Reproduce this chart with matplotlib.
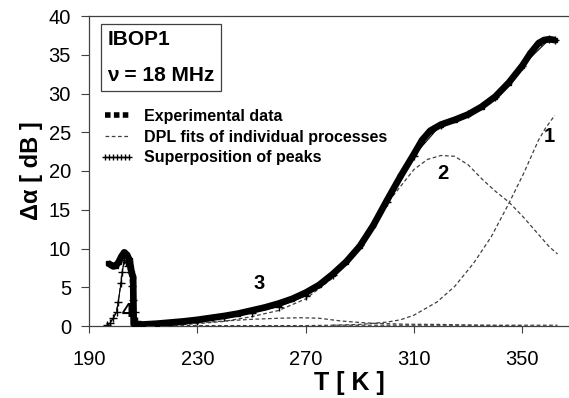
import matplotlib
matplotlib.use("Agg")
import matplotlib.pyplot as plt
from matplotlib.lines import Line2D
import numpy as np

plt.rcParams['font.family'] = ['Liberation Sans', 'DejaVu Sans']

# Experimental data
exp_T = [197, 198, 199, 200, 201, 202, 203, 204, 205, 205.8, 206.3, 206.5, 208, 210, 215, 220, 225, 230,
         235, 240, 245, 250, 255, 260, 265, 270, 275, 280, 285, 290, 295, 300, 305, 310, 313, 316, 320,
         325, 330, 335, 340, 345, 350, 353, 356, 358, 360, 362]
exp_A = [8.1, 7.9, 7.7, 7.8, 8.3, 9.0, 9.5, 9.2, 8.5, 6.8, 6.3, 0.2, 0.2, 0.2, 0.3, 0.45, 0.6, 0.8,
         1.05, 1.3, 1.6, 2.0, 2.4, 2.9, 3.5, 4.3, 5.3, 6.7, 8.3, 10.3, 13.0, 16.2, 19.3, 22.2, 24.0, 25.2, 26.0,
         26.6, 27.3, 28.3, 29.6, 31.4, 33.6, 35.2, 36.5, 36.9, 37.0, 36.9]

# Superposition of peaks
sup_T = [196.5, 197.7, 199, 200.2, 200.8, 201.8, 202.3, 203, 203.8, 204.5, 205.1, 205.7, 206.1, 207, 207.6,
         208.8, 212, 220, 230, 240, 250, 260, 270, 280, 290, 300, 310, 320, 330, 340, 350, 360, 362]
sup_A = [0.1, 0.35, 1.0, 1.8, 3.1, 5.5, 7.0, 8.5, 8.3, 7.8, 7.0, 5.1, 3.4, 1.8, 0.7,
         0.1, 0.1, 0.3, 0.7, 1.1, 1.7, 2.5, 3.9, 6.6, 10.4, 16.0, 22.0, 26.0, 27.3, 29.6, 33.6, 37.0, 36.9]

# DPL fits of individual processes
p1_T = [280, 290, 300, 305, 310, 318.5, 325, 332, 338.5, 345, 350.5, 356, 358.5, 362]
p1_A = [0.1, 0.2, 0.5, 0.8, 1.4, 3.1, 5.1, 8.1, 11.5, 15.8, 19.7, 24.0, 25.5, 27.2]

p2_T = [220, 230, 240, 250, 260, 270, 280, 290, 300, 310, 315, 320, 325, 330, 335, 340, 345, 350, 355, 360, 363]
p2_A = [0.1, 0.3, 0.6, 1.2, 2.0, 3.5, 6.2, 10.5, 15.8, 20.2, 21.5, 22.0, 21.9, 20.8, 19.0, 17.4, 16.0, 14.2, 12.2, 10.2, 9.3]

p3_T = [210, 220, 230, 240, 250, 260, 268, 275, 283, 290, 295, 300, 307, 320, 330, 340, 350]
p3_A = [0.05, 0.15, 0.4, 0.65, 0.86, 1.0, 1.07, 1.0, 0.65, 0.45, 0.35, 0.3, 0.23, 0.2, 0.12, 0.05, 0.02]

p4_T = [196.5, 198, 200, 201, 202, 203, 204, 205, 206, 207, 208, 210, 270, 280, 363]
p4_A = [0.0, 0.5, 1.8, 3.5, 6.5, 8.3, 8.0, 6.5, 3.5, 1.5, 0.4, 0.05, 0.05, 0.1, 0.1]

peak_labels = ['1', '2', '3', '4']
peak_T = [360, 320.5, 252.8, 204.2]
peak_A = [24.4, 19.7, 5.5, 1.85]

fig = plt.figure(figsize=(5.69, 3.98), dpi=100)
ax = fig.add_axes([89/569, 72/398, 520/569, 310/398])

dash_col = '#404040'
for T, A in [(p1_T, p1_A), (p2_T, p2_A), (p3_T, p3_A), (p4_T, p4_A)]:
    ax.plot(T, A, color=dash_col, lw=0.9, ls=(0, (3, 2)), zorder=2)

ax.plot(sup_T, sup_A, color='black', lw=0.8, marker='+', ms=6, mew=1.0, zorder=2.5)
ax.plot(exp_T, exp_A, color='black', lw=4.8, marker='s', ms=3.5, solid_capstyle='butt', zorder=3)

for lab, t, a in zip(peak_labels, peak_T, peak_A):
    ax.text(t, a, lab, fontsize=14.5, fontweight='bold', ha='center', va='center', zorder=5)

ax.set_xlim(190, 382)
ax.set_ylim(0, 40)
ax.set_xticks(np.arange(190, 371, 40))
ax.set_yticks(np.arange(0, 41, 5))
ax.tick_params(axis='x', length=5, width=0.8, pad=12, labelsize=14.5, color='#404040')
ax.tick_params(axis='y', length=6, width=0.8, pad=7, labelsize=14.5, color='#404040')
for s in ['left', 'top', 'bottom']:
    ax.spines[s].set_color('#404040')
    ax.spines[s].set_linewidth(0.9)
ax.spines['right'].set_visible(False)

ax.set_xlabel('T [ K ]', fontsize=18, fontweight='bold', labelpad=2)
ax.set_ylabel('Δα [ dB ]', fontsize=17, fontweight='bold', labelpad=4)

ax.text(0.035, 0.955, 'IBOP1\nν = 18 MHz', transform=ax.transAxes, fontsize=15, fontweight='bold',
        ha='left', va='top', linespacing=2.15,
        bbox=dict(boxstyle='square,pad=0.3', fc='white', ec='#404040', lw=0.9))

handles = [Line2D([], [], color='black', lw=4, ls=(0, (1, 0.6))),
           Line2D([], [], color=dash_col, lw=0.9, ls=(0, (3, 2))),
           Line2D([], [], color='black', lw=0.8, marker='+', ms=5)]
labels = ['Experimental data', 'DPL fits of individual processes', 'Superposition of peaks']
leg = ax.legend(handles, labels, loc='upper left', bbox_to_anchor=(100/569, 1 - 109/398),
                bbox_transform=fig.transFigure, frameon=False, numpoints=7,
                prop=dict(weight='bold', size=11.5), handlelength=2.1, handletextpad=0.65,
                labelspacing=0.35, borderpad=0, borderaxespad=0)

fig.savefig('out.png', dpi=100)
